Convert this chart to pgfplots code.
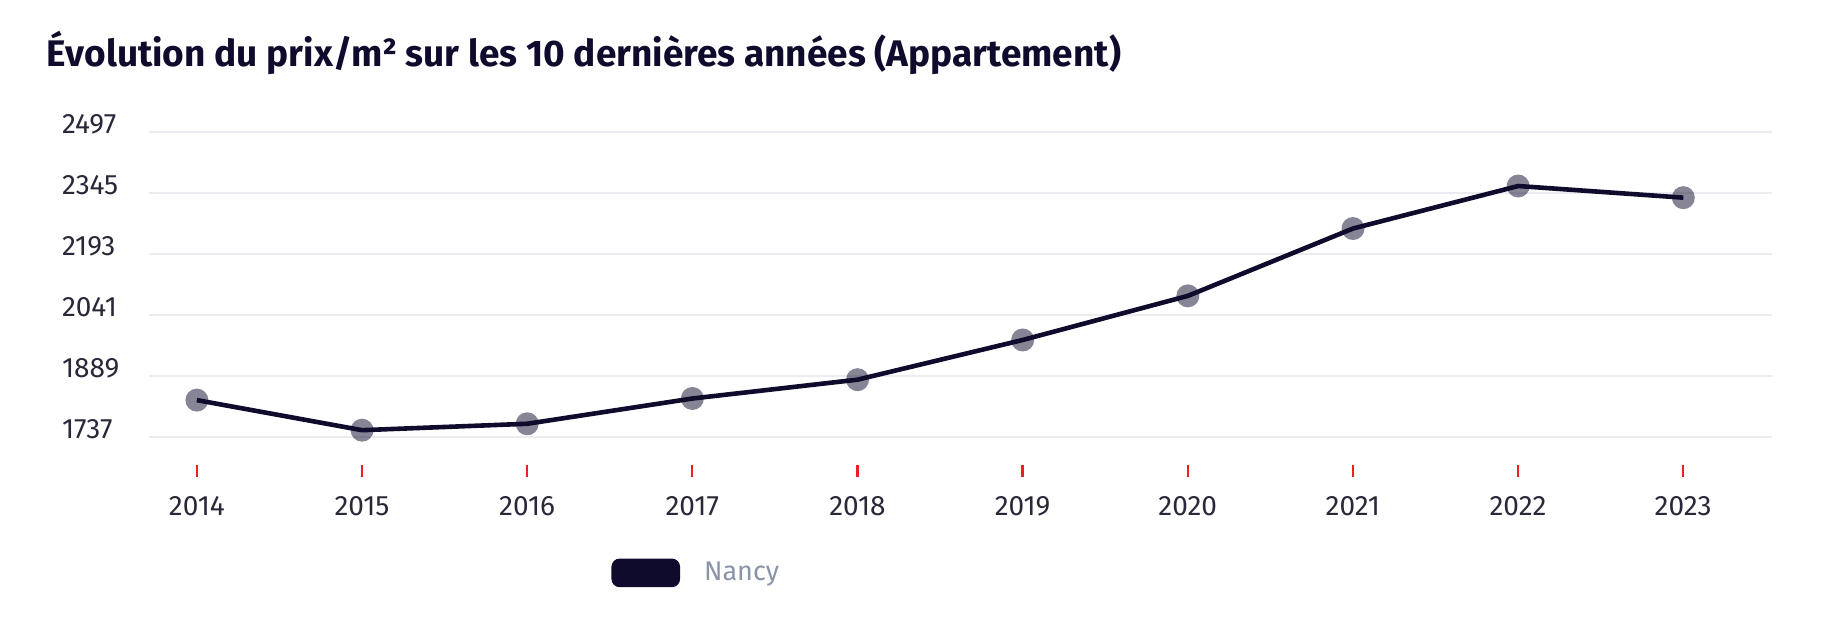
\documentclass[border=0pt]{standalone}
\usepackage{fontspec}
\setmainfont{Fira Sans}
\usepackage{pgfplots}
\pgfplotsset{compat=1.18}
\definecolor{navy}{RGB}{14,11,45}
\definecolor{gridgray}{RGB}{234,236,241}
\definecolor{labelgray}{RGB}{40,40,56}
\definecolor{legendgray}{RGB}{138,148,166}
\definecolor{tickred}{RGB}{240,30,30}

\begin{document}
\begin{tikzpicture}
\path[use as bounding box] (0,0) rectangle (913pt,316pt);
\begin{axis}[
    at={(74.5pt,97.5pt)}, anchor=south west,
    scale only axis, width=811.5pt, height=152.35pt,
    xmin=2013.71, xmax=2023.537, ymin=1737, ymax=2497,
    xtick={2014,...,2023}, ytick={1737,1889,2041,2193,2345,2497},
    /pgf/number format/assume math mode=true,
    /pgf/number format/1000 sep={},
    axis line style={draw=none},
    ymajorgrids, grid style={gridgray, line width=1pt},
    xtick pos=bottom, ytick pos=left, tick align=outside,
    major tick length=6pt,
    xtick style={tickred, line width=1.2pt, yshift=-14pt},
    ytick style={draw=none},
    ticklabel style={font=\fontsize{14}{16}\selectfont, text=labelgray},
    yticklabel style={anchor=west, inner sep=0pt, xshift=-37.7pt, yshift=4pt},
    xticklabel style={anchor=center, inner sep=0pt, yshift=-28.8pt},
    title={\bfseries Évolution du prix/m² sur les 10 dernières années (Appartement)},
    title style={at={(-0.0631,1.22)}, anchor=west, inner sep=0pt,
        font=\fontsize{18.5}{22}\selectfont, text=navy},
    legend style={at={(0.2847,-0.446)}, anchor=west, draw=none, fill=none,
        font=\fontsize{13.5}{16}\selectfont, text=legendgray, inner sep=0pt,
        /tikz/every odd column/.append style={column sep=10pt}},
    clip=false,
]
\addplot[navy, line width=2.3pt, mark=*, mark size=5.75pt,
    mark options={draw opacity=0, fill=navy, fill opacity=0.5},
    legend image code/.code={\fill[navy, rounded corners=3pt] (0pt,-6pt) rectangle (32pt,6pt);}]
    coordinates {(2014,1829) (2015,1754) (2016,1770) (2017,1833) (2018,1880)
                 (2019,1979) (2020,2089) (2021,2257) (2022,2363) (2023,2334)};
\addlegendentry{Nancy}
\end{axis}
\end{tikzpicture}
\end{document}
